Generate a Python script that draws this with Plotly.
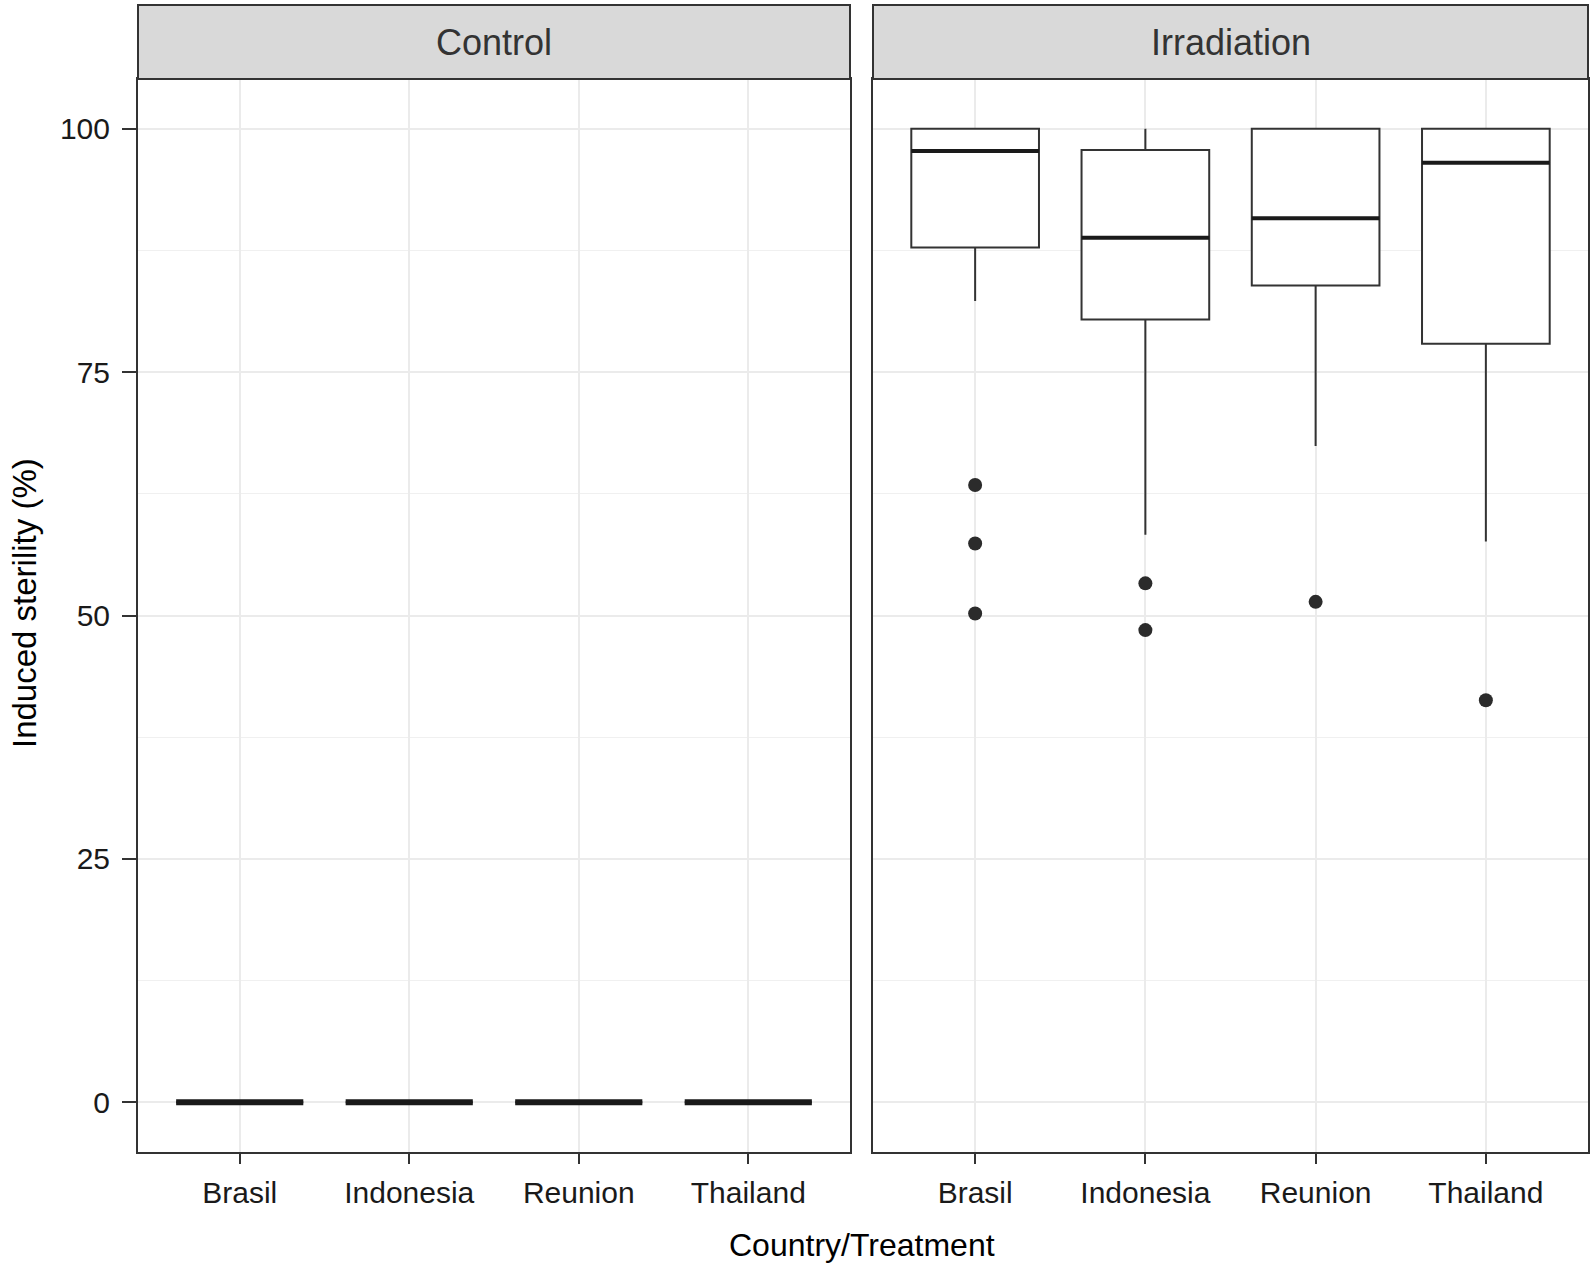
import plotly.graph_objects as go

# ---------------- data ----------------
countries = ["Brasil", "Indonesia", "Reunion", "Thailand"]
positions = [1, 2, 3, 4]

ctrl_q1 = [0, 0, 0, 0]
ctrl_median = [0, 0, 0, 0]
ctrl_q3 = [0, 0, 0, 0]
ctrl_lower = [0, 0, 0, 0]
ctrl_upper = [0, 0, 0, 0]

irr_q1 = [87.8, 80.4, 83.9, 77.9]
irr_median = [97.7, 88.8, 90.8, 96.5]
irr_q3 = [100, 97.8, 100, 100]
irr_lower = [82.3, 58.3, 67.4, 57.6]
irr_upper = [100, 100, 100, 100]

outlier_country = ["Brasil", "Brasil", "Brasil", "Indonesia", "Indonesia", "Reunion", "Thailand"]
outlier_values = [63.4, 57.4, 50.2, 53.3, 48.5, 51.4, 41.3]

y_ticks = [0, 25, 50, 75, 100]
panels = ["Control", "Irradiation"]

# ---------------- layout constants ----------------
W, H = 1591, 1266
BOX_W = 0.75
LINE = "#333333"
FONT = "Liberation Sans, Arial, sans-serif"

def px_x(p):
    return p / W

def px_y(p):
    return 1 - p / H

x1_dom = [px_x(138), px_x(850)]
x2_dom = [px_x(873), px_x(1588)]
y_dom = [px_y(1152), px_y(79)]
strip_y = [px_y(79), px_y(5)]

fig = go.Figure()

def add_boxes(xa, ya, q1, med, q3, lo, hi, med_w):
    fig.add_trace(go.Box(
        x=positions, q1=q1, median=med, q3=q3,
        lowerfence=lo, upperfence=hi,
        width=BOX_W, whiskerwidth=0,
        fillcolor="white", line=dict(color=LINE, width=2),
        boxpoints=False, showlegend=False, hoverinfo="skip",
        xaxis=xa, yaxis=ya,
    ))
    # thicker median bar
    for p, m in zip(positions, med):
        fig.add_shape(type="line", xref=xa, yref=ya,
                      x0=p - BOX_W / 2, x1=p + BOX_W / 2, y0=m, y1=m,
                      line=dict(color="#1a1a1a", width=med_w))

add_boxes("x", "y", ctrl_q1, ctrl_median, ctrl_q3, ctrl_lower, ctrl_upper, 6)
add_boxes("x2", "y2", irr_q1, irr_median, irr_q3, irr_lower, irr_upper, 4)

fig.add_trace(go.Scatter(
    x=[positions[countries.index(c)] for c in outlier_country],
    y=outlier_values, mode="markers",
    marker=dict(color="#2b2b2b", size=14),
    showlegend=False, hoverinfo="skip", xaxis="x2", yaxis="y2",
))

xcommon = dict(
    range=[0.4, 4.6], tickvals=positions, ticktext=countries,
    showgrid=True, gridcolor="#EBEBEB", gridwidth=2,
    zeroline=False, showline=True, mirror=True, linecolor=LINE, linewidth=2,
    ticks="outside", ticklen=10, tickwidth=2, tickcolor=LINE,
    tickfont=dict(family=FONT, size=30, color="#1a1a1a"),
    ticklabelstandoff=3,
)
ycommon = dict(
    range=[-5.1, 105.1], tickvals=y_ticks,
    showgrid=True, gridcolor="#EBEBEB", gridwidth=2,
    minor=dict(dtick=12.5, tick0=0, showgrid=True, gridcolor="#F0F0F0", gridwidth=1),
    zeroline=False, showline=True, mirror=True, linecolor=LINE, linewidth=2,
    domain=y_dom,
)

fig.update_layout(
    width=W, height=H,
    margin=dict(l=0, r=0, t=0, b=0),
    paper_bgcolor="white", plot_bgcolor="white",
    xaxis=dict(domain=x1_dom, anchor="y", **xcommon),
    xaxis2=dict(domain=x2_dom, anchor="y2", **xcommon),
    yaxis=dict(anchor="x", ticks="outside", ticklen=14, tickwidth=2, tickcolor=LINE,
               tickfont=dict(family=FONT, size=30, color="#1a1a1a"),
               ticklabelstandoff=6, **ycommon),
    yaxis2=dict(anchor="x2", matches="y", showticklabels=False, ticks="", **ycommon),
    showlegend=False,
)

# strips
for dom, name in zip([x1_dom, x2_dom], panels):
    fig.add_shape(type="rect", xref="paper", yref="paper",
                  x0=dom[0], x1=dom[1], y0=strip_y[0], y1=strip_y[1],
                  fillcolor="#D9D9D9", line=dict(color=LINE, width=2), layer="above")
    fig.add_annotation(xref="paper", yref="paper",
                       x=(dom[0] + dom[1]) / 2, y=(strip_y[0] + strip_y[1]) / 2,
                       text=name, showarrow=False,
                       font=dict(family=FONT, size=36, color="#333333"),
                       xanchor="center", yanchor="middle")

# axis titles
fig.add_annotation(xref="paper", yref="paper", x=px_x(862), y=px_y(1245),
                   text="Country/Treatment", showarrow=False,
                   font=dict(family=FONT, size=32, color="#000000"),
                   xanchor="center", yanchor="middle")
fig.add_annotation(xref="paper", yref="paper", x=px_x(24), y=px_y(603),
                   text="Induced sterility (%)", showarrow=False, textangle=-90,
                   font=dict(family=FONT, size=33, color="#000000"),
                   xanchor="center", yanchor="middle")

fig.write_html("out.html", config={"displayModeBar": False},
               post_script="document.body.style.margin='0px';")
